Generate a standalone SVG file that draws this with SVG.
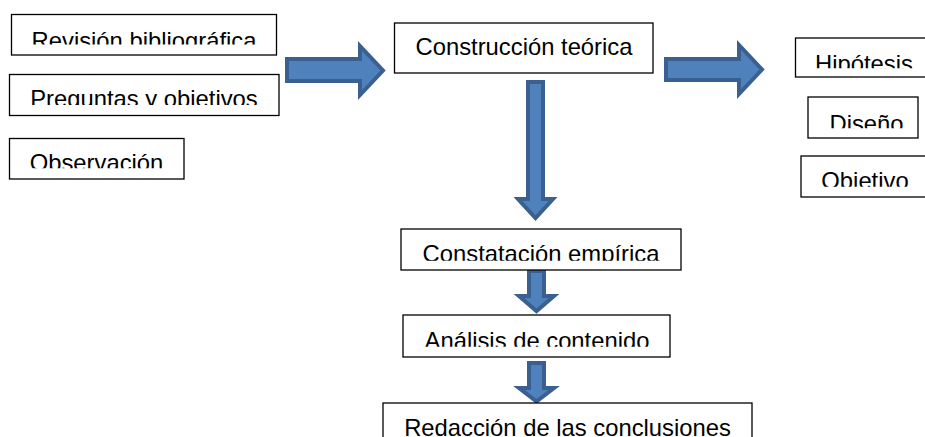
<svg xmlns="http://www.w3.org/2000/svg" width="925" height="437" viewBox="0 0 925 437">
<style>
.box{fill:#fff;stroke:#000;stroke-width:1.3}
.lbl{font-family:"Liberation Sans",Arial,sans-serif;font-size:23.8px;fill:#000;text-anchor:middle}
.arr{fill:#4F81BD;stroke:#3A6090;stroke-width:4;stroke-linejoin:miter;stroke-miterlimit:10}
</style>
<defs>
<clipPath id="c1"><rect x="0" y="0" width="925" height="44.5"/></clipPath>
<clipPath id="c2"><rect x="0" y="60" width="925" height="45"/></clipPath>
<clipPath id="c3"><rect x="0" y="130" width="925" height="38.3"/></clipPath>
<clipPath id="c5"><rect x="0" y="30" width="925" height="38.3"/></clipPath>
<clipPath id="c6"><rect x="0" y="90" width="925" height="38.3"/></clipPath>
<clipPath id="c7"><rect x="0" y="150" width="925" height="36.7"/></clipPath>
<clipPath id="c8"><rect x="0" y="220" width="925" height="40.7"/></clipPath>
<clipPath id="c9"><rect x="0" y="300" width="925" height="46.7"/></clipPath>
</defs>
<rect width="925" height="437" fill="#fff"/>
<g id="connectors">
<polygon class="arr" points="287,59 360,59 360,46 383,70.5 360,95 360,81 287,81"/>
<polygon class="arr" points="666,59 739,59 739,45 762,69.5 739,94 739,80 666,80"/>
<polygon class="arr" points="528,82 543,82 543,199 553,199 535.5,218 518,199 528,199"/>
<polygon class="arr" points="529,271 544,271 544,296 554,296 536.5,311 519,296 529,296"/>
<polygon class="arr" points="529,363 544,363 544,388 554,388 536.5,401.5 519,388 529,388"/>
</g>
<g id="n-revision">
<rect class="box" x="11.5" y="14.5" width="265" height="40.5"/>
<text class="lbl" x="144" y="49" clip-path="url(#c1)">Revisión bibliográfica</text>
</g>
<g id="n-preguntas">
<rect class="box" x="9.5" y="74.5" width="269.5" height="41"/>
<text class="lbl" x="144" y="107.2" clip-path="url(#c2)">Preguntas y objetivos</text>
</g>
<g id="n-observacion">
<rect class="box" x="9.5" y="138.5" width="174.5" height="40.5"/>
<text class="lbl" x="96.5" y="170.7" clip-path="url(#c3)">Observación</text>
</g>
<g id="n-construccion">
<rect class="box" x="394.5" y="23" width="258.5" height="50"/>
<text class="lbl" x="524" y="55">Construcción teórica</text>
</g>
<g id="n-hipotesis">
<rect class="box" x="795.5" y="38" width="138" height="39"/>
<text class="lbl" x="864" y="72.2" clip-path="url(#c5)">Hipótesis</text>
</g>
<g id="n-diseno">
<rect class="box" x="808" y="97" width="110" height="41"/>
<text class="lbl" x="866.5" y="131.5" clip-path="url(#c6)">Diseño</text>
</g>
<g id="n-objetivo">
<rect class="box" x="801" y="156" width="140" height="41"/>
<text class="lbl" x="865" y="189" clip-path="url(#c7)">Objetivo</text>
</g>
<g id="n-constatacion">
<rect class="box" x="401" y="229" width="280" height="41"/>
<text class="lbl" x="541" y="262" clip-path="url(#c8)">Constatación empírica</text>
</g>
<g id="n-analisis">
<rect class="box" x="403" y="315" width="267" height="42"/>
<text class="lbl" x="537" y="349" clip-path="url(#c9)">Análisis de contenido</text>
</g>
<g id="n-redaccion">
<rect class="box" x="383" y="403" width="369" height="50"/>
<text class="lbl" x="567.5" y="435.5">Redacción de las conclusiones</text>
</g>
</svg>
